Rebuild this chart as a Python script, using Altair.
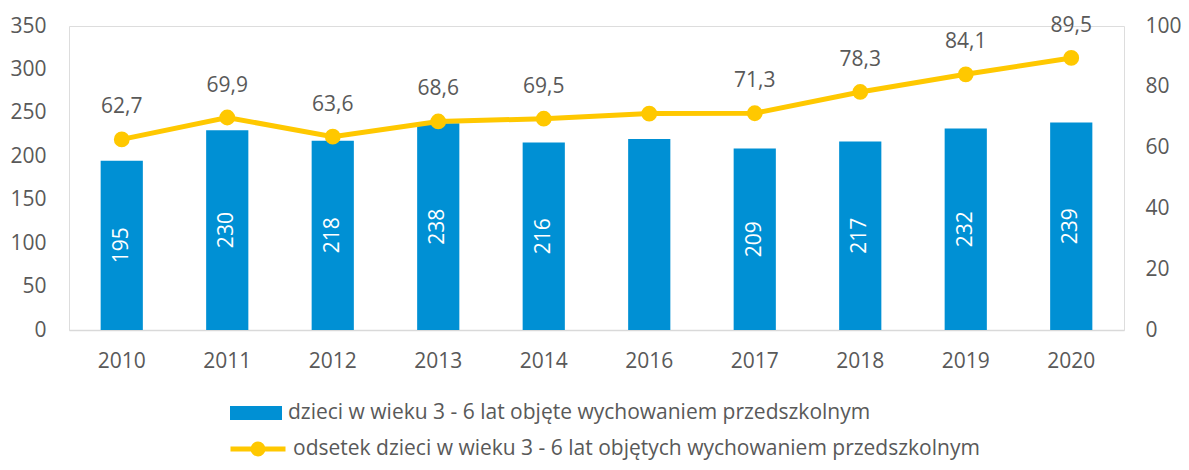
import altair as alt
import pandas as pd

years = ["2010", "2011", "2012", "2013", "2014", "2016", "2017", "2018", "2019", "2020"]
children = [195, 230, 218, 238, 216, 220, 209, 217, 232, 239]
percent = [62.7, 69.9, 63.6, 68.6, 69.5, 71.2, 71.3, 78.3, 84.1, 89.5]
labeled = [True, True, True, True, True, False, True, True, True, True]

bar_name = "dzieci w wieku 3 - 6 lat objęte wychowaniem przedszkolnym"
line_name = "odsetek dzieci w wieku 3 - 6 lat objętych wychowaniem przedszkolnym"

BLUE = "#0090D4"
YELLOW = "#FFC800"
GREY = "#595959"
FONT = "Open Sans"
FS = 21

df = pd.DataFrame({
    "year": years,
    "children": children,
    "half": [c / 2 for c in children],
    "bar_label": [str(c) if s else "" for c, s in zip(children, labeled)],
    "pct": percent,
    "pct_label": [f"{p:.1f}".replace(".", ",") if s else "" for p, s in zip(percent, labeled)],
    "s1": bar_name,
    "s2": line_name,
})

x = alt.X("year:N", sort=years, title=None,
          scale=alt.Scale(paddingInner=0.6, paddingOuter=0.3),
          axis=alt.Axis(labelAngle=0, ticks=False, domainColor="#D9D9D9", domainWidth=1.5,
                        labelPadding=20, labelColor=GREY, labelFontSize=FS, labelFont=FONT))

yl_scale = alt.Scale(domain=[0, 350])
yr_scale = alt.Scale(domain=[0, 100])

base = alt.Chart(df)

bars = base.mark_bar().encode(
    x=x,
    y=alt.Y("children:Q", scale=yl_scale, title=None,
            axis=alt.Axis(values=list(range(0, 351, 50)), grid=False, domain=False, ticks=False,
                          labelPadding=23, labelColor=GREY, labelFontSize=FS, labelFont=FONT)),
    fill=alt.Fill("s1:N", scale=alt.Scale(domain=[bar_name], range=[BLUE]),
                  legend=alt.Legend(title=None, orient="none", legendX=161, legendY=361,
                                    symbolType="M-1,-0.27H1V0.27H-1Z", symbolSize=2704,
                                    symbolStrokeWidth=0, labelOffset=6, padding=0,
                                    labelFontSize=FS, labelFont=FONT, labelColor=GREY, labelLimit=900)),
)

bar_text = base.mark_text(angle=270, color="white", fontSize=FS, font=FONT, baseline="middle", align="center").encode(
    x=x,
    y=alt.Y("half:Q", scale=yl_scale),
    text="bar_label:N",
)

left = alt.layer(bars, bar_text)

line = base.mark_line(strokeWidth=5, point=alt.OverlayMarkDef(filled=True, size=190, color=YELLOW)).encode(
    x=x,
    y=alt.Y("pct:Q", scale=yr_scale, title=None,
            axis=alt.Axis(orient="right", values=list(range(0, 101, 20)), grid=False, domain=False, ticks=False,
                          labelPadding=21, labelColor=GREY, labelFontSize=FS, labelFont=FONT)),
    stroke=alt.Stroke("s2:N", scale=alt.Scale(domain=[line_name], range=[YELLOW]),
                      legend=alt.Legend(title=None, orient="none", legendX=159, legendY=393,
                                        symbolType="M-1,0H1M0.18,0A0.18,0.18,0,1,1,-0.18,0A0.18,0.18,0,1,1,0.18,0",
                                        symbolSize=3025, symbolStrokeWidth=5, symbolFillColor=YELLOW,
                                        labelOffset=5, padding=0,
                                        labelFontSize=FS, labelFont=FONT, labelColor=GREY, labelLimit=900)),
)

line_text = base.mark_text(color=GREY, fontSize=FS, font=FONT, baseline="middle", align="center", dy=-32).encode(
    x=x,
    y=alt.Y("pct:Q", scale=yr_scale),
    text="pct_label:N",
)

right = alt.layer(line, line_text)

chart = alt.layer(left, right).resolve_scale(y="independent", fill="independent", stroke="independent").properties(
    width=1055, height=304,
    autosize=alt.AutoSizeParams(type="none"),
    padding={"left": 61, "top": 18, "right": 57, "bottom": 132},
).configure_view(stroke=None).configure(background="white")

chart.save("out.html", embed_options={"renderer": "svg", "actions": False})
